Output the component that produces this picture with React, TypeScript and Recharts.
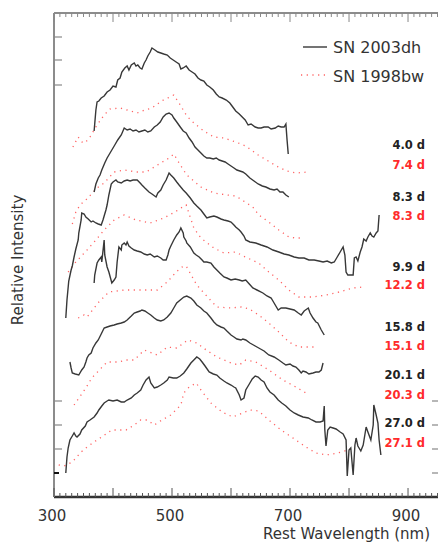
import React from "react";
import { LineChart, Line, XAxis, YAxis } from "recharts";

// ---- SN 2003dh spectra (rest wavelength nm, relative intensity + offset) ----
const dh04Wl = [368,371,373,376,380,385,390,395,400,405,408,412,415,420,424,427,431,436,439,442,446,449,453,456,459,463,466,471,476,481,486,492,497,502,507,512,515,519,524,529,534,539,544,549,554,559,564,570,575,580,585,592,598,603,608,614,619,624,629,634,641,646,651,656,663,668,675,680,685,690,693,695,697];
const dh04Fl = [36.6,38.7,39.5,39.6,39.9,40.1,40.5,40.7,41.1,41.0,41.7,41.9,42.5,42.9,43.1,42.7,43.2,43.4,43.1,43.2,42.9,42.8,43.4,43.7,44.1,44.5,44.9,44.7,44.5,44.4,44.3,44.2,43.9,43.7,43.5,43.3,42.8,42.9,43.1,42.7,42.5,42.3,41.9,41.7,41.6,41.2,41.0,40.7,40.3,40.0,39.9,39.7,39.4,39.0,38.6,38.3,38.0,37.7,37.2,37.3,37.0,36.9,36.9,37.0,37.0,36.8,36.9,37.1,37.0,37.0,37.3,35.7,34.3];

const dh83Wl = [368,371,375,378,381,386,390,395,398,403,408,414,419,424,429,434,439,444,449,454,459,464,470,475,480,485,490,495,500,503,508,514,519,524,529,534,539,544,549,554,559,564,570,575,580,585,590,595,600,605,610,615,620,625,632,639,646,653,659,666,673,678,683,688,693,698];
const dh83Fl = [30.5,31.3,31.9,32.2,32.7,33.4,33.9,34.4,34.7,35.2,35.7,36.2,36.9,36.7,36.8,36.6,36.7,36.5,36.6,36.7,36.5,36.6,37.0,37.2,37.5,38.0,38.3,38.4,38.2,37.9,37.5,37.0,36.6,36.4,35.9,35.5,35.0,34.7,34.4,34.1,33.9,33.9,33.8,33.9,33.7,33.6,33.5,33.3,33.1,32.9,32.7,32.6,32.5,32.3,31.9,31.6,31.3,31.1,31.0,30.8,30.7,30.8,30.5,30.5,30.2,30.0];

const dh99Wl = [320,322,325,329,331,334,337,341,342,346,347,351,354,358,363,366,371,375,380,383,385,388,390,393,397,400,405,408,414,419,424,429,434,441,446,449,454,461,466,473,476,481,485,490,495,498,503,508,512,519,524,531,537,542,549,554,559,564,571,576,583,588,595,600,605,608,614,617,622,625,632,642,651,661,671,681,690,698,707,715,724,732,741,749,756,763,770,775,780,785,790,793,795,798,803,807,809,812,815,819,822,825,829,832,836,839,842,846,849,851];
const dh99Fl = [17.9,19.7,21.6,22.7,23.1,24.0,24.8,25.7,26.4,27.7,28.4,28.3,28.0,27.8,27.5,27.6,27.4,27.3,27.2,27.7,28.1,28.7,29.2,30.2,31.3,31.5,31.7,31.5,31.4,31.6,31.7,31.6,31.7,31.7,31.4,31.2,30.9,30.5,30.3,30.0,30.4,30.7,31.2,31.7,32.4,32.2,31.9,31.5,31.2,30.7,30.4,29.9,29.4,29.1,28.7,28.3,27.9,28.0,28.1,28.0,27.8,27.7,27.6,27.5,27.2,27.0,26.7,26.5,26.1,25.7,25.5,25.4,25.2,25.0,24.7,24.5,24.3,24.2,24.0,23.9,23.9,23.7,23.7,23.6,23.5,23.6,23.4,23.5,24.0,24.5,25.0,24.2,22.5,22.2,22.2,22.2,23.9,24.0,23.6,24.5,25.0,25.8,25.6,26.0,26.4,26.1,26.0,26.4,26.6,28.2];

const dh158Wl = [368,369,373,376,380,381,385,386,390,393,398,402,405,407,410,414,415,419,422,424,427,431,436,441,447,453,458,463,470,475,481,485,490,493,495,498,503,508,512,515,519,520,524,525,531,537,541,546,551,554,559,566,571,576,581,588,593,600,607,614,619,625,631,637,644,654,661,668,673,680,685,693,700,707,714,719,724,731,734,739,744,747,753,758];
const dh158Fl = [21.4,22.2,23.4,23.7,24.0,23.5,25.7,24.2,23.0,22.5,21.4,21.7,22.0,23.5,25.0,24.7,25.2,25.4,25.2,25.5,25.1,24.9,24.7,24.6,24.5,24.3,24.2,24.3,24.0,24.1,23.9,23.7,23.7,24.2,24.7,25.1,25.7,26.2,26.5,26.9,26.4,26.0,25.6,25.4,25.0,24.4,24.2,24.0,23.7,23.5,23.5,23.4,23.0,22.7,22.4,22.0,21.9,21.7,21.8,21.7,21.6,21.7,21.3,20.9,20.7,20.4,20.1,19.9,19.4,18.7,18.9,18.9,18.8,18.7,18.4,18.2,18.6,18.9,18.4,17.9,17.5,17.4,16.7,16.2];

const dh201Wl = [327,329,331,336,342,347,351,354,356,359,363,366,371,375,380,385,390,395,402,407,414,419,424,431,436,441,446,449,454,459,464,470,475,481,486,492,498,503,508,514,520,525,532,537,542,549,554,559,566,571,576,583,588,593,600,605,610,617,620,625,632,641,647,656,664,673,681,688,693,700,705,710,715,719,722,727,732,739,744,749,753,756];
const dh201Fl = [13.5,12.9,12.4,12.3,12.2,12.7,13.0,13.5,13.9,14.2,14.4,14.9,15.4,15.7,16.3,16.9,17.0,17.1,17.2,17.3,17.4,17.5,17.7,18.1,18.4,18.5,18.6,18.7,18.6,18.4,18.2,17.9,17.7,17.6,17.7,18.0,18.4,18.9,19.4,19.7,20.0,20.1,19.9,19.6,19.2,18.9,18.6,18.4,17.9,17.5,17.2,17.0,16.9,16.6,16.2,16.0,15.8,15.7,15.8,15.7,15.4,15.1,14.9,14.6,14.2,14.0,13.7,13.4,13.2,13.3,13.1,13.0,12.7,12.4,12.6,12.5,12.3,12.4,12.5,12.5,12.7,13.4];

const dh270Wl = [320,322,324,327,331,334,337,339,344,347,353,356,361,368,373,376,381,385,390,393,400,407,414,419,424,431,436,441,447,451,456,461,464,470,475,481,486,492,495,502,508,514,520,525,532,537,542,547,551,556,563,570,576,581,588,593,600,605,608,614,617,622,625,631,636,641,646,651,656,661,666,673,680,686,693,700,707,714,722,731,737,744,751,756,758,759,761,764,768,773,778,785,790,795,797,800,803,807,810,812,815,820,824,829,832,837,841,842,846,849,851,854];
const dh270Fl = [2.4,4.0,4.9,5.7,6.1,6.4,6.1,6.0,6.3,6.7,7.1,7.5,7.7,8.0,8.4,8.7,9.1,9.4,9.6,9.7,9.6,9.7,9.5,9.5,9.7,9.9,10.2,10.4,10.7,11.2,11.7,12.0,11.4,10.9,11.0,11.2,11.4,11.7,12.0,11.9,11.9,12.1,12.4,12.8,13.4,13.7,14.0,13.8,13.5,13.1,12.5,12.3,12.2,11.9,11.6,11.4,11.2,11.0,10.9,10.2,9.7,9.9,10.7,11.3,11.8,12.1,12.0,11.7,11.5,10.9,10.5,10.2,9.7,9.4,9.1,8.7,8.4,8.2,8.0,7.9,7.7,7.5,7.5,7.6,9.1,6.7,5.1,6.7,7.0,6.9,6.8,6.5,6.3,5.7,2.1,4.7,4.9,2.2,5.2,5.9,5.1,4.6,5.2,7.0,6.5,5.7,7.2,9.2,8.2,7.4,5.7,4.2];

// ---- SN 1998bw comparison spectra ----
const bw74Wl = [332,341,349,354,361,373,385,395,412,424,441,454,466,480,488,497,503,514,525,537,554,571,588,608,625,646,663,680,695,710,731];
const bw74Fl = [35.0,36.0,35.4,35.5,36.0,37.2,38.2,38.8,38.9,38.7,38.4,38.7,38.9,39.5,39.8,40.0,40.2,39.2,38.1,37.4,36.6,36.0,35.9,35.5,35.1,34.2,33.6,33.0,32.6,32.4,32.5];

const bw83Wl = [331,337,344,354,373,385,402,419,441,456,470,481,495,503,514,525,549,571,593,608,624,637,647,664,681,698,710,722];
const bw83Fl = [27.3,28.5,29.2,29.7,30.9,31.4,32.5,32.7,32.5,32.5,33.0,33.4,33.9,34.3,33.2,32.2,31.0,30.4,30.2,30.1,29.5,29.0,28.2,27.5,26.7,26.0,25.9,25.9];

const bw122Wl = [324,337,356,371,385,402,419,439,463,486,505,515,524,537,549,571,588,608,624,647,664,681,698,715,739,761,783,807,824];
const bw122Fl = [22.5,23.5,24.7,25.7,26.7,27.7,28.2,27.7,27.4,27.9,28.5,28.9,29.2,26.9,25.9,24.9,24.4,24.5,24.0,23.4,22.5,21.7,20.7,20.0,20.0,20.2,20.5,20.9,21.0];

const bw151Wl = [341,351,356,376,393,419,436,458,475,492,507,517,524,542,554,576,600,617,631,647,664,681,698,715,732,742];
const bw151Fl = [17.9,18.2,18.0,19.5,20.5,20.7,20.7,20.7,20.7,21.5,22.5,23.0,23.1,21.2,20.4,19.0,18.9,19.0,18.8,18.2,17.4,16.5,15.5,15.0,15.0,15.0];

const bw203Wl = [334,354,364,390,410,422,436,453,475,492,508,520,527,542,558,576,600,614,625,642,664,688,710,727];
const bw203Fl = [9.2,10.9,11.9,13.5,13.5,13.7,13.7,14.7,14.2,15.0,14.9,15.4,15.7,15.4,14.7,14.0,13.4,13.2,13.7,13.5,12.7,11.7,11.0,10.4];

const bw271Wl = [308,317,331,346,356,368,398,422,436,447,458,470,483,498,515,520,529,541,549,566,585,603,632,647,666,685,710,727,744,761,781,798,810];
const bw271Fl = [3.2,3.1,3.5,4.5,5.0,5.5,6.7,6.7,7.2,7.7,7.7,7.2,7.7,8.2,9.2,10.4,11.0,11.4,10.7,9.4,8.5,8.0,8.7,8.6,7.6,6.7,5.7,5.0,4.4,4.2,4.4,4.7,5.0];

// ---- labels / ticks ----
const epochLabelsDh = ["4.0 d", "8.3 d", "9.9 d", "15.8 d", "20.1 d", "27.0 d"];
const epochLabelsBw = ["7.4 d", "8.3 d", "12.2 d", "15.1 d", "20.3 d", "27.1 d"];
const xTickLabels = [300, 500, 700, 900];
const xDomain = [300, 952.5];
const yDomain = [0, 48.4];
const yTicksLeft = [2.4, 4.8, 7.2, 9.6, 41.2, 43.7, 46.0];
const yTicksRight = [2.4, 4.8, 7.2, 9.6];

const xMinorTicks: number[] = [];
for (let w = 300; w <= 950; w += 10) xMinorTicks.push(w);

const zip = (wl: number[], fl: number[]) =>
  wl.slice(0, Math.min(wl.length, fl.length)).map((x, i) => ({ x, y: fl[i] }));

const dhSeries = [
  zip(dh04Wl, dh04Fl), zip(dh83Wl, dh83Fl), zip(dh99Wl, dh99Fl),
  zip(dh158Wl, dh158Fl), zip(dh201Wl, dh201Fl), zip(dh270Wl, dh270Fl),
];
const bwSeries = [
  zip(bw74Wl, bw74Fl), zip(bw83Wl, bw83Fl), zip(bw122Wl, bw122Fl),
  zip(bw151Wl, bw151Fl), zip(bw203Wl, bw203Fl), zip(bw271Wl, bw271Fl),
];
const allPoints = [...dhSeries.flat(), ...bwSeries.flat()];

const FONT = "'DejaVu Sans', 'Liberation Sans', sans-serif";
const W = 440;
const H = 542;
const OFF = 8; // tickSize (6) + tickMargin (2): distance from axis to the tick anchor

const BottomTick = (p: any) => {
  const { x, y, payload } = p;
  const a = y - OFF;
  const v = payload.value;
  const major = v % 100 === 0;
  return (
    <g>
      <line x1={x} x2={x} y1={a} y2={a - (major ? 9 : 4)} stroke="#555" strokeWidth={1} />
      {xTickLabels.includes(v) ? (
        <text x={x - 2} y={a + 24} textAnchor="middle" fontFamily={FONT} fontSize={15} fill="#333">
          {v}
        </text>
      ) : null}
    </g>
  );
};

const TopTick = (p: any) => {
  const { x, y, payload } = p;
  const a = y + OFF;
  const major = payload.value % 100 === 0;
  return <line x1={x} x2={x} y1={a} y2={a + (major ? 9 : 4)} stroke="#888" strokeWidth={1} />;
};

const LeftTick = (p: any) => {
  const { x, y, payload } = p;
  const a = x + OFF;
  const bold = payload.value === 2.4;
  return (
    <line x1={a} x2={a + (bold ? 5 : 8)} y1={y} y2={y}
      stroke={bold ? "#111" : "#888"} strokeWidth={bold ? 2 : 1.2} />
  );
};

const RightTick = (p: any) => {
  const { x, y } = p;
  const a = x - OFF;
  return <line x1={a} x2={a - 7} y1={y} y2={y} stroke="#888" strokeWidth={1.2} />;
};

const labelYs = [145, 197, 267, 327, 375, 423];
const labelYsBw = [165, 216, 285, 346, 395, 443];

export default function App() {
  return (
    <div style={{ position: "absolute", left: 0, top: 0, width: 438, height: 542, overflow: "hidden", background: "#fff" }}>
      <LineChart width={W} height={H} data={allPoints} margin={{ top: 12, right: 0, bottom: 15, left: 53 }}>
        <XAxis xAxisId="b" type="number" dataKey="x" domain={xDomain} ticks={xMinorTicks} interval={0}
          tick={<BottomTick />} tickLine={false} tickSize={6} tickMargin={2} height={30}
          axisLine={{ stroke: "#333", strokeWidth: 2.5 }} allowDataOverflow />
        <XAxis xAxisId="t" orientation="top" type="number" dataKey="x" domain={xDomain} ticks={xMinorTicks} interval={0}
          tick={<TopTick />} tickLine={false} tickSize={6} tickMargin={2} height={1}
          axisLine={{ stroke: "#8c8c8c", strokeWidth: 2 }} allowDataOverflow />
        <YAxis yAxisId="l" type="number" dataKey="y" domain={yDomain} ticks={yTicksLeft} interval={0}
          tick={<LeftTick />} tickLine={false} tickSize={6} tickMargin={2} width={1}
          axisLine={{ stroke: "#8c8c8c", strokeWidth: 2 }} allowDataOverflow />
        <YAxis yAxisId="r" orientation="right" type="number" dataKey="y" domain={yDomain} ticks={yTicksRight} interval={0}
          tick={<RightTick />} tickLine={false} tickSize={6} tickMargin={2} width={1}
          axisLine={{ stroke: "#8c8c8c", strokeWidth: 2 }} allowDataOverflow />
        {bwSeries.map((d, i) => (
          <Line key={"bw" + i} xAxisId="b" yAxisId="l" data={d} dataKey="y" type="linear" dot={false}
            activeDot={false} stroke="#ff6262" strokeWidth={1.3} strokeDasharray="1.2 4.5"
            isAnimationActive={false} />
        ))}
        {dhSeries.map((d, i) => (
          <Line key={"dh" + i} xAxisId="b" yAxisId="l" data={d} dataKey="y" type="linear" dot={false}
            activeDot={false} stroke="#383838" strokeWidth={1.4} isAnimationActive={false} />
        ))}
        <Line xAxisId="t" yAxisId="r" data={[]} dataKey="y" dot={false} activeDot={false}
          stroke="none" isAnimationActive={false} legendType="none" />
      </LineChart>
      <svg width={W} height={H} style={{ position: "absolute", left: 0, top: 0, pointerEvents: "none" }}>
        <line x1={303} x2={327} y1={47} y2={47} stroke="#383838" strokeWidth={1.4} />
        <text x={333} y={47} dominantBaseline="central" fontFamily={FONT} fontSize={16} fill="#333">SN 2003dh</text>
        <line x1={301} x2={328} y1={75} y2={75} stroke="#ff6262" strokeWidth={1.3} strokeDasharray="1.2 4.5" />
        <text x={333} y={76} dominantBaseline="central" fontFamily={FONT} fontSize={16} fill="#333">SN 1998bw</text>
        {epochLabelsDh.map((t, i) => (
          <text key={"ld" + i} x={425} y={labelYs[i]} textAnchor="end" dominantBaseline="central"
            fontFamily={FONT} fontSize={11.5} fontWeight={600} fill="#222">{t}</text>
        ))}
        {epochLabelsBw.map((t, i) => (
          <text key={"lb" + i} x={425} y={labelYsBw[i]} textAnchor="end" dominantBaseline="central"
            fontFamily={FONT} fontSize={11.5} fontWeight={600} fill="#ff2b2b">{t}</text>
        ))}
        <text transform="translate(17.5,260) rotate(-90)" textAnchor="middle" dominantBaseline="central"
          fontFamily={FONT} fontSize={15} fill="#333">Relative Intensity</text>
        <text x={263} y={539} fontFamily={FONT} fontSize={15} fill="#333">Rest Wavelength (nm)</text>
      </svg>
    </div>
  );
}
